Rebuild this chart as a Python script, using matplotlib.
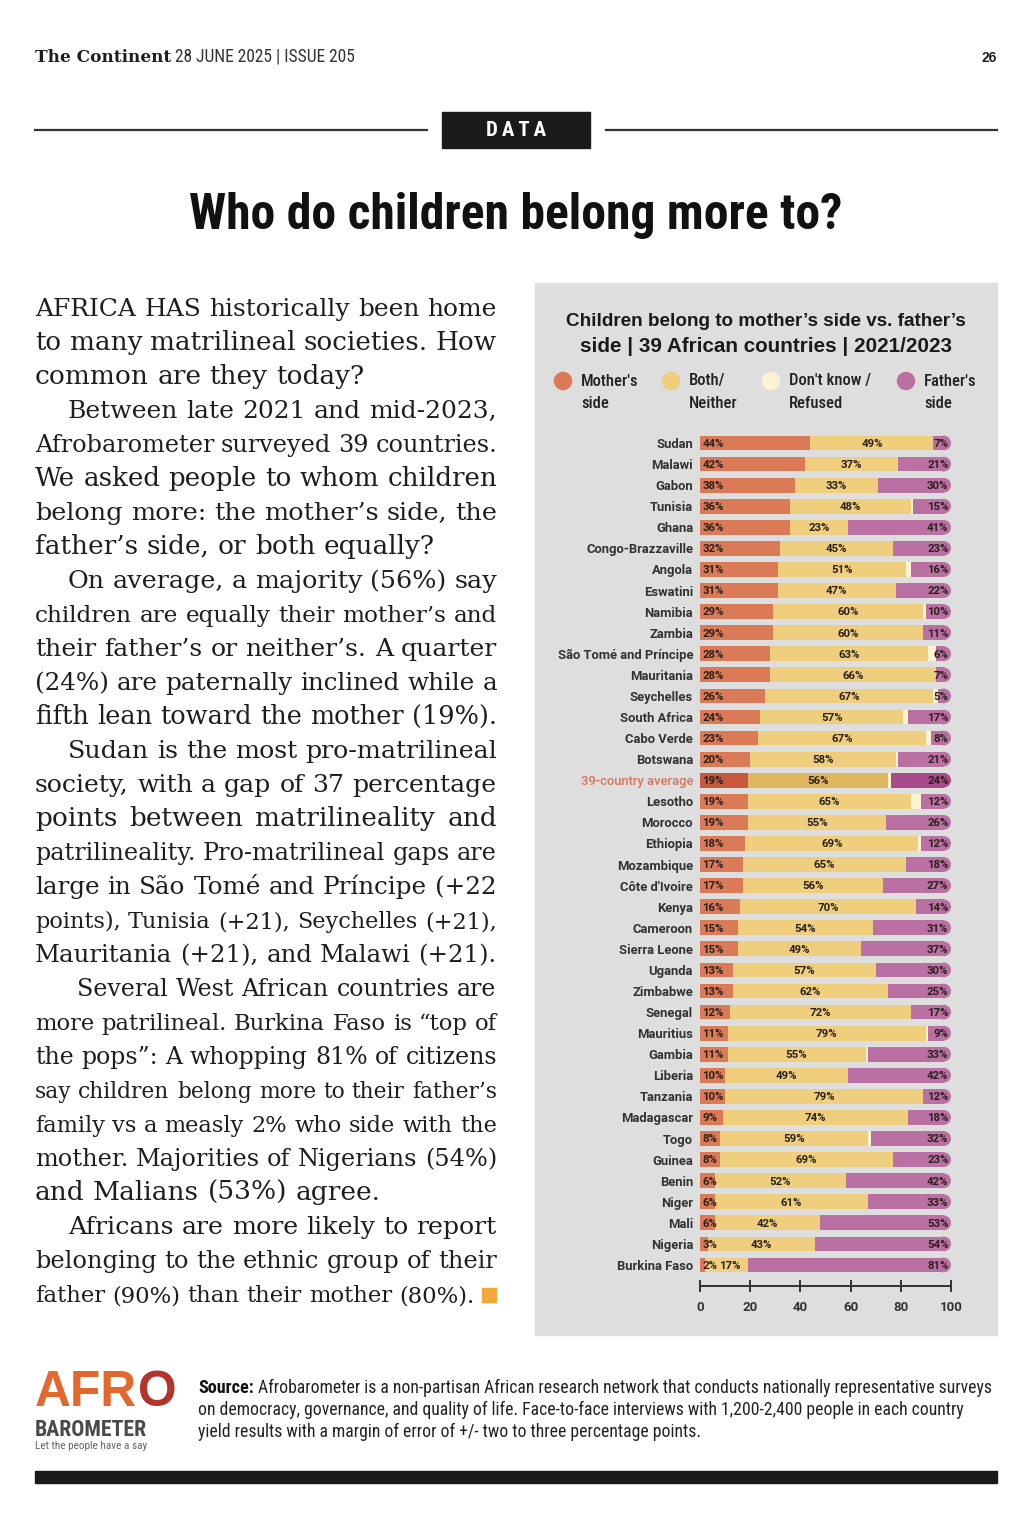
import matplotlib
matplotlib.use("Agg")
import matplotlib.pyplot as plt
from matplotlib import font_manager as fm
from matplotlib.patches import Rectangle, Ellipse, Circle

# ---- data -------------------------------------------------------------
countries = ["Sudan", "Malawi", "Gabon", "Tunisia", "Ghana", "Congo-Brazzaville",
             "Angola", "Eswatini", "Namibia", "Zambia", "São Tomé and Príncipe",
             "Mauritania", "Seychelles", "South Africa", "Cabo Verde", "Botswana",
             "39-country average", "Lesotho", "Morocco", "Ethiopia", "Mozambique",
             "Côte d'Ivoire", "Kenya", "Cameroon", "Sierra Leone", "Uganda",
             "Zimbabwe", "Senegal", "Mauritius", "Gambia", "Liberia", "Tanzania",
             "Madagascar", "Togo", "Guinea", "Benin", "Niger", "Mali", "Nigeria",
             "Burkina Faso"]
mother = [44, 42, 38, 36, 36, 32, 31, 31, 29, 29, 28, 28, 26, 24, 23, 20, 19, 19, 19, 18,
          17, 17, 16, 15, 15, 13, 13, 12, 11, 11, 10, 10, 9, 8, 8, 6, 6, 6, 3, 2]
both = [49, 37, 33, 48, 23, 45, 51, 47, 60, 60, 63, 66, 67, 57, 67, 58, 56, 65, 55, 69,
        65, 56, 70, 54, 49, 57, 62, 72, 79, 55, 49, 79, 74, 59, 69, 52, 61, 42, 43, 17]
dont_know = [0, 0, 0, 1, 0, 0, 2, 0, 1, 0, 3, 0, 2, 2, 2, 1, 1, 4, 0, 1,
             0, 0, 0, 0, 0, 0, 0, 0, 1, 1, 0, 0, 0, 1, 0, 0, 0, 0, 0, 0]
father = [7, 21, 30, 15, 41, 23, 16, 22, 10, 11, 6, 7, 5, 17, 8, 21, 24, 12, 26, 12,
          18, 27, 14, 31, 37, 30, 25, 17, 9, 33, 42, 12, 18, 32, 23, 42, 33, 53, 54, 81]
average_label = "39-country average"
x_ticks = [0, 20, 40, 60, 80, 100]

legend_labels = ["Mother's\nside", "Both/\nNeither", "Don't know /\nRefused", "Father's\nside"]
chart_title = ["Children belong to mother’s side vs. father’s",
               "side | 39 African countries | 2021/2023"]

# body text, one list per paragraph (lines as printed)
paragraphs = [
    ["AFRICA HAS historically been home",
     "to many matrilineal societies. How",
     "common are they today?"],
    ["Between late 2021 and mid-2023,",
     "Afrobarometer surveyed 39 countries.",
     "We asked people to whom children",
     "belong more: the mother’s side, the",
     "father’s side, or both equally?"],
    ["On average, a majority (56%) say",
     "children are equally their mother’s and",
     "their father’s or neither’s. A quarter",
     "(24%) are paternally inclined while a",
     "fifth lean toward the mother (19%)."],
    ["Sudan is the most pro-matrilineal",
     "society, with a gap of 37 percentage",
     "points between matrilineality and",
     "patrilineality. Pro-matrilineal gaps are",
     "large in São Tomé and Príncipe (+22",
     "points), Tunisia (+21), Seychelles (+21),",
     "Mauritania (+21), and Malawi (+21)."],
    ["Several West African countries are",
     "more patrilineal. Burkina Faso is “top of",
     "the pops”: A whopping 81% of citizens",
     "say children belong more to their father’s",
     "family vs a measly 2% who side with the",
     "mother. Majorities of Nigerians (54%)",
     "and Malians (53%) agree."],
    ["Africans are more likely to report",
     "belonging to the ethnic group of their",
     "father (90%) than their mother (80%)."],
]
source_lines = ["Afrobarometer is a non-partisan African research network that conducts nationally representative surveys",
                "on democracy, governance, and quality of life. Face-to-face interviews with 1,200-2,400 people in each country",
                "yield results with a margin of error of +/- two to three percentage points."]

# ---- colours / fonts --------------------------------------------------
C_MOTHER, C_BOTH, C_DK, C_FATHER = "#da7a57", "#efcf7e", "#fbf3d2", "#bb70a4"
C_AVG = {"m": "#c8583d", "b": "#deb65c", "f": "#a94a8d"}
PANEL = "#dedede"
INK = "#1e1e1e"

names = {f.name for f in fm.fontManager.ttflist}


def pick(*cands):
    return next((c for c in cands if c in names), "DejaVu Sans")


SERIF = pick("DejaVu Serif Condensed", "DejaVu Serif", "Liberation Serif")
SANS = pick("Liberation Sans", "Roboto", "DejaVu Sans")
ROBOTO = pick("Roboto", "Liberation Sans")
COND = pick("Roboto Condensed", "Liberation Sans Narrow", "Open Sans Condensed",
            "DejaVu Sans Condensed", "Roboto")

fig = plt.figure(figsize=(10.36, 15.36), dpi=100)
fig.patch.set_facecolor("white")
page = fig.add_axes([0, 0, 1, 1])
page.set_xlim(0, 1036)
page.set_ylim(1536, 0)
page.axis("off")
renderer = fig.canvas.get_renderer()


def width_of(t):
    return t.get_window_extent(renderer).width


def fit(x, y, s, width, size=12, **kw):
    t = page.text(x, y, s, fontsize=size, **kw)
    t.set_fontsize(size * width / width_of(t))
    return t


# ---- header -----------------------------------------------------------
fit(35, 62, "The Continent", 135, family=SERIF, weight="bold", color=INK, va="baseline")
fit(175, 62, "28 JUNE 2025 | ISSUE 205", 180, family=COND, color="#333333", va="baseline")
page.text(997, 62, "26", fontsize=10, family=SANS, weight="bold", ha="right", va="baseline", color=INK)

page.plot([35, 427], [130, 130], color="#333333", lw=1.6)
page.plot([606, 997], [130, 130], color="#333333", lw=1.6)
page.add_patch(Rectangle((442, 112), 148, 36, color="#1a1a1a"))
page.text(516, 131, "\u2009".join("DATA"), fontsize=15, family=COND, weight="bold",
          color="white", ha="center", va="center")

fit(516, 229, "Who do children belong more to?", 656, family=COND, weight="bold",
    color="#111111", ha="center", va="baseline")

# ---- body text (justified) --------------------------------------------
BODY_SIZE = 19
LEFT, RIGHT = 35, 497
baseline = 316
step = 34.0
space_probe = page.text(0, 0, "a a", fontsize=BODY_SIZE, family=SERIF)
nospace_probe = page.text(0, 0, "aa", fontsize=BODY_SIZE, family=SERIF)
SPACE = width_of(space_probe) - width_of(nospace_probe)
space_probe.remove()
nospace_probe.remove()

for p_i, para in enumerate(paragraphs):
    for l_i, line in enumerate(para):
        indent = 0
        if l_i == 0 and p_i > 0:
            indent = 42 if p_i == 4 else 33
        last = l_i == len(para) - 1
        right = RIGHT
        if p_i == len(paragraphs) - 1 and last:
            right = RIGHT - 22
            justify = True
        else:
            justify = not last
        words = line.split(" ")
        texts = [page.text(0, baseline, w, fontsize=BODY_SIZE, family=SERIF,
                           color=INK, va="baseline") for w in words]
        widths = [width_of(t) for t in texts]
        avail = right - LEFT - indent
        natural = sum(widths) + SPACE * (len(words) - 1)
        scale = 1.0
        if natural > avail:
            scale = avail / natural
            for t in texts:
                t.set_fontsize(BODY_SIZE * scale)
            widths = [w * scale for w in widths]
        if justify and len(words) > 1:
            gap = (avail - sum(widths)) / (len(words) - 1)
        else:
            gap = SPACE * scale
        x = LEFT + indent
        for t, w in zip(texts, widths):
            t.set_x(x)
            x += w + gap
        baseline += step

# orange end mark
page.add_patch(Rectangle((482, 1288), 14, 14, color="#f0a93a"))

# ---- chart panel ------------------------------------------------------
page.add_patch(Rectangle((535, 283), 462, 1052, color=PANEL, zorder=0))
for i, line in enumerate(chart_title):
    fit(766, 322 + 24 * i, line, 398 if i == 0 else 370, family=SANS, weight="bold",
        color="#1a1a1a", ha="center", va="center")

leg_x = [563, 671, 771, 906]
leg_colors = [C_MOTHER, C_BOTH, C_DK, C_FATHER]
for lx, lc, lab in zip(leg_x, leg_colors, legend_labels):
    page.add_patch(Circle((lx, 381), 8.5, color=lc))
    for j, part in enumerate(lab.split("\n")):
        page.text(lx + 18, 381 + 22 * j, part, fontsize=12, family=COND, weight="medium",
                  color="#222222", va="center", ha="left")

# bar axes in pixel placement
row_top, row_bottom = 443, 1265
n = len(countries)
pitch = (row_bottom - row_top) / (n - 1)
ax_top = row_top - pitch / 2
ax_bot = row_bottom + pitch / 2
ax = fig.add_axes([700 / 1036, 1 - ax_bot / 1536, 251 / 1036, (ax_bot - ax_top) / 1536])
ax.set_facecolor("none")
ax.set_xlim(0, 100)
ax.set_ylim(n - 0.5, -0.5)

bar_h = 0.70
px_per_x = 251 / 100
rx = (bar_h * pitch / 2) / px_per_x

for i, name in enumerate(countries):
    avg = name == average_label
    cm = C_AVG["m"] if avg else C_MOTHER
    cb = C_AVG["b"] if avg else C_BOTH
    cf = C_AVG["f"] if avg else C_FATHER
    m, b, d, f = mother[i], both[i], dont_know[i], father[i]
    # father segment with rounded right end
    ax.barh(i, f - rx, left=100 - f, height=bar_h, color=cf, lw=0, zorder=1)
    ax.add_patch(Ellipse((100 - rx, i), 2 * rx, bar_h, color=cf, lw=0, zorder=1))
    ax.barh(i, m, left=0, height=bar_h, color=cm, lw=0, zorder=2)
    ax.barh(i, b, left=m, height=bar_h, color=cb, lw=0, zorder=2)
    if d > 0:
        ax.barh(i, d, left=m + b, height=bar_h, color=C_DK, lw=0, zorder=2)
    lab_kw = dict(fontsize=8.2, family=ROBOTO, weight="bold", color="#2b211b",
                  va="center", zorder=3)
    ax.text(1.0, i + 0.04, f"{m}%", ha="left", **lab_kw)
    ax.text(max(m + b / 2, 11.8), i + 0.04, f"{b}%", ha="center", **lab_kw)
    ax.text(99, i + 0.04, f"{f}%", ha="right", **lab_kw)

ax.set_yticks(range(n))
ax.set_yticklabels(countries, fontsize=9.4, family=ROBOTO, weight="bold", color="#333333")
for tl in ax.get_yticklabels():
    if tl.get_text() == average_label:
        tl.set_color("#d9735a")
        tl.set_weight("medium")
ax.tick_params(axis="y", length=0, pad=5)
for s in ["top", "right", "left"]:
    ax.spines[s].set_visible(False)
ax.spines["bottom"].set_position(("outward", (1286 - ax_bot) * 0.72))
ax.spines["bottom"].set_color("#333333")
ax.spines["bottom"].set_linewidth(1.4)
ax.set_xticks(x_ticks)
ax.set_xticklabels([str(t) for t in x_ticks], fontsize=9.5, family=ROBOTO, weight="bold",
                   color="#333333")
ax.tick_params(axis="x", direction="inout", length=9, width=1.4, color="#333333", pad=6)

# ---- footer -----------------------------------------------------------
afr = fit(35, 1406, "AFR", 102, size=33, family=SANS, weight="bold", color="#e1692d", va="baseline")
page.text(35 + width_of(afr) + 1, 1406, "O", fontsize=afr.get_fontsize(), family=SANS,
          weight="bold", color="#b2352d", va="baseline")
fit(35, 1436, "BAROMETER", 112, family=COND, weight="bold", color="#4a4a4a", va="baseline")
fit(35, 1449, "Let the people have a say", 112, family=COND, color="#666666", va="baseline")

src = fit(198, 1393, "Source:", 56, family=COND, weight="bold", color="#111111", va="baseline")
src_size = src.get_fontsize()
rest = page.text(258, 1393, source_lines[0], fontsize=src_size, family=COND, color="#222222",
                 va="baseline")
rest.set_fontsize(src_size * (986 - 258) / width_of(rest))
for k, line in enumerate(source_lines[1:], start=1):
    page.text(198, 1393 + 22 * k, line, fontsize=rest.get_fontsize(), family=COND,
              color="#222222", va="baseline")

page.add_patch(Rectangle((35, 1471), 962, 12, color="#1a1a1a"))

fig.savefig("out.png", dpi=100, facecolor="white")
